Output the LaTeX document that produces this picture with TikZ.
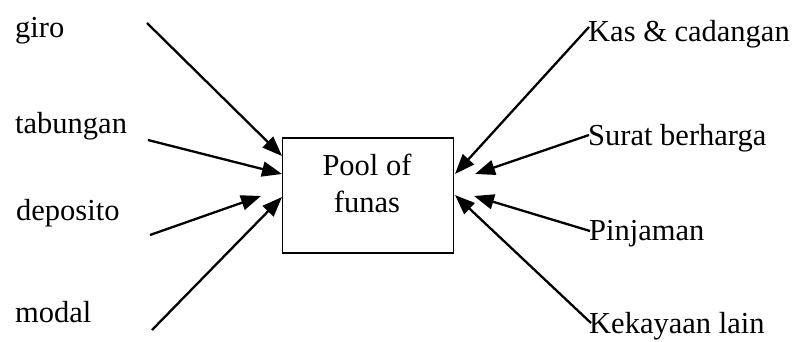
\documentclass[tikz,border=0pt]{standalone}
\usepackage{fontspec}
\setmainfont{Liberation Serif}
\usetikzlibrary{arrows.meta}
\begin{document}
\begin{tikzpicture}[x=1pt,y=-1pt,
  lbl/.style={anchor=base west,inner sep=0pt,font=\fontsize{30.5}{36}\selectfont},
  arr/.style={line width=2.3pt,-{Triangle[length=20pt,width=15pt]}},
  poolbox/.style={draw,line width=1.8pt}]
\useasboundingbox (0,0) rectangle (805,341);
\node[poolbox,minimum width=171pt,minimum height=115pt,inner sep=0pt] (pool) at (368,195.5) {};
\node[inner sep=0pt,anchor=base,font=\fontsize{30.5}{36}\selectfont] (t1) at (367,175) {Pool of};
\node[inner sep=0pt,anchor=base,font=\fontsize{30.5}{36}\selectfont] (t2) at (367,212) {funas};
% left labels
\node[lbl] (giro) at (15,37) {giro};
\node[lbl] (tab) at (15,133) {tabungan};
\node[lbl] (dep) at (16,220) {deposito};
\node[lbl] (mod) at (15,322) {modal};
% right labels
\node[lbl] (kas) at (588,41) {Kas \& cadangan};
\node[lbl] (sur) at (588,145) {Surat berharga};
\node[lbl] (pin) at (589,240) {Pinjaman};
\node[lbl] (kek) at (589,333) {Kekayaan lain};
% start coordinates
\coordinate (sg) at (147,23);
\coordinate (st) at (148,140);
\coordinate (sd) at (150,235);
\coordinate (sm) at (152,330);
\coordinate (sk) at (589,27);
\coordinate (ss) at (589,135);
\coordinate (sp) at (590,231);
\coordinate (se) at (591,323);
% end coordinates
\coordinate (eg) at (282,156);
\coordinate (et) at (282,174);
\coordinate (ed) at (261,196);
\coordinate (em) at (282,197);
\coordinate (ek) at (455,174);
\coordinate (es) at (475,174);
\coordinate (ep) at (474,196);
\coordinate (ee) at (455,195);
\draw[arr] (sg) -- (eg);
\draw[arr] (st) -- (et);
\draw[arr] (sd) -- (ed);
\draw[arr] (sm) -- (em);
\draw[arr] (sk) -- (ek);
\draw[arr] (ss) -- (es);
\draw[arr] (sp) -- (ep);
\draw[arr] (se) -- (ee);
\end{tikzpicture}
\end{document}
